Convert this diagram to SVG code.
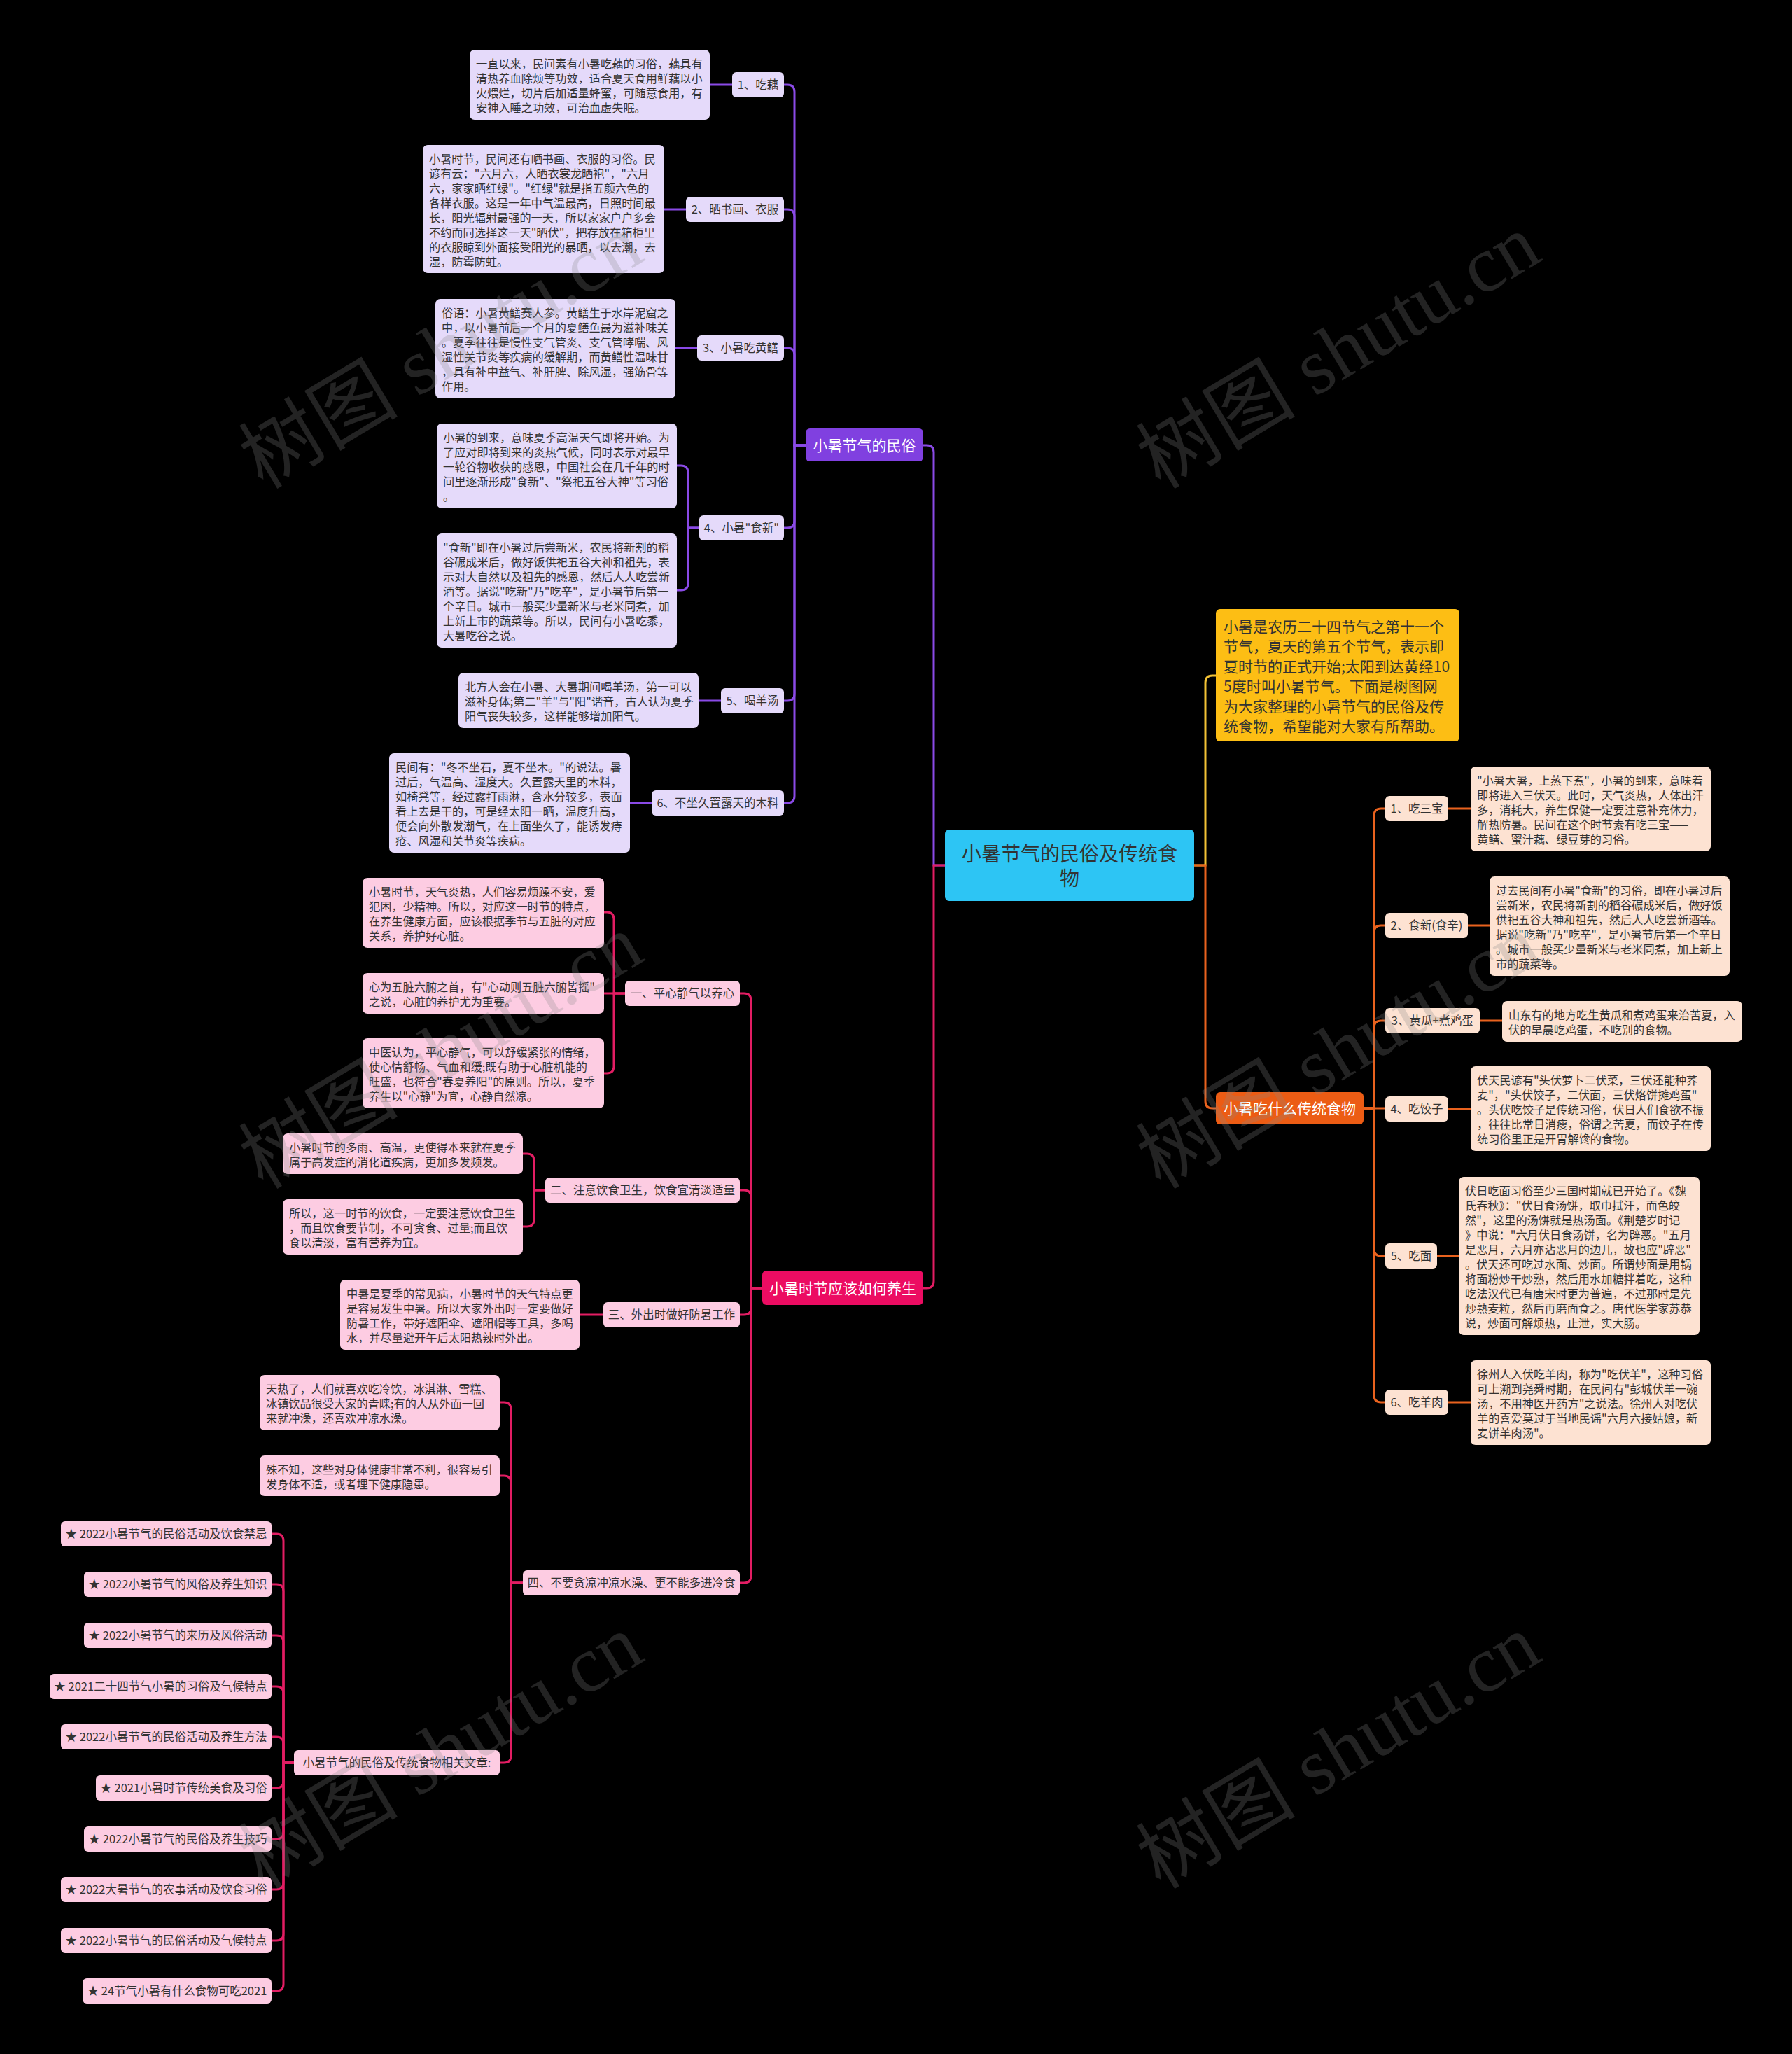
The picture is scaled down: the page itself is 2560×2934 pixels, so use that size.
<svg xmlns="http://www.w3.org/2000/svg" width="2560" height="2934" viewBox="0 0 2560 2934">
<style>
.t{font-family:'Noto Sans CJK SC','Noto Sans',sans-serif;font-size:16.2px;fill:#333}
.lb{font-family:'Noto Sans CJK SC','Noto Sans',sans-serif;font-size:16.5px;fill:#333;text-anchor:middle}
.mn{font-family:'Noto Sans CJK SC','Noto Sans',sans-serif;font-size:21px;fill:#fff;text-anchor:middle}
.pb{fill:#E5DAFA}
.kb{fill:#FDCCE2}
.ob{fill:#FDE2D2}
.lp{stroke:#8A4AE6;stroke-width:3;fill:none}
.lk{stroke:#E21D63;stroke-width:3;fill:none}
.lo{stroke:#E9621E;stroke-width:3;fill:none}
.ly{stroke:#F2C235;stroke-width:3;fill:none}
.wm{font-family:'Liberation Serif','Noto Sans CJK SC',serif;font-size:114px;fill:#888;fill-opacity:0.26;text-anchor:middle}
</style>
<rect x="0" y="0" width="2560" height="2934" fill="#000"/>

<g id="connectors">
<path class="lp" d="M1350,1236 H1334 V646 Q1334,636 1324,636 H1319"/>
<path class="lk" d="M1350,1236 H1334 V1830 Q1334,1840 1324,1840 H1319"/>
<path class="ly" d="M1706,1236 H1722 V975 Q1722,965 1732,965 H1737"/>
<path class="lo" d="M1706,1236 H1722 V1573 Q1722,1583 1732,1583 H1737"/>

<path class="lp" d="M1151,636 H1135 V131 Q1135,121 1125,121 H1120"/>
<path class="lp" d="M1151,636 H1135 V309 Q1135,299 1125,299 H1120"/>
<path class="lp" d="M1151,636 H1135 V507 Q1135,497 1125,497 H1120"/>
<path class="lp" d="M1151,636 H1135 V744 Q1135,754 1125,754 H1120"/>
<path class="lp" d="M1151,636 H1135 V991 Q1135,1001 1125,1001 H1120"/>
<path class="lp" d="M1151,636 H1135 V1137 Q1135,1147 1125,1147 H1120"/>
<path class="lp" d="M1046,121 H1014"/>
<path class="lp" d="M980,299 H949"/>
<path class="lp" d="M996,497 H965"/>
<path class="lp" d="M999,754 H983 V675 Q983,665 973,665 H967"/>
<path class="lp" d="M999,754 H983 V833 Q983,843 973,843 H967"/>
<path class="lp" d="M1030,1001 H998"/>
<path class="lp" d="M931,1147 H900"/>

<path class="lo" d="M1948,1583 H1963 V1165 Q1963,1155 1973,1155 H1979"/>
<path class="lo" d="M1948,1583 H1963 V1332 Q1963,1322 1973,1322 H1979"/>
<path class="lo" d="M1948,1583 H1963 V1468 Q1963,1458 1973,1458 H1979"/>
<path class="lo" d="M1948,1583 H1979"/>
<path class="lo" d="M1948,1583 H1963 V1784 Q1963,1794 1973,1794 H1979"/>
<path class="lo" d="M1948,1583 H1963 V1993 Q1963,2003 1973,2003 H1979"/>
<path class="lo" d="M2069,1155 H2101"/>
<path class="lo" d="M2097,1322 H2128"/>
<path class="lo" d="M2114,1458 H2146"/>
<path class="lo" d="M2069,1584 H2101"/>
<path class="lo" d="M2053,1794 H2084"/>
<path class="lo" d="M2069,2003 H2101"/>

<path class="lk" d="M1089,1840 H1073 V1429 Q1073,1419 1063,1419 H1057"/>
<path class="lk" d="M1089,1840 H1073 V1710 Q1073,1700 1063,1700 H1057"/>
<path class="lk" d="M1089,1840 H1073 V1868 Q1073,1878 1063,1878 H1057"/>
<path class="lk" d="M1089,1840 H1073 V2251 Q1073,2261 1063,2261 H1057"/>
<path class="lk" d="M893,1419 H877 V1313 Q877,1303 867,1303 H863"/>
<path class="lk" d="M893,1419 H863"/>
<path class="lk" d="M893,1419 H877 V1523 Q877,1533 867,1533 H863"/>
<path class="lk" d="M779,1700 H763 V1658 Q763,1648 753,1648 H747"/>
<path class="lk" d="M779,1700 H763 V1742 Q763,1752 753,1752 H747"/>
<path class="lk" d="M862,1878 H828"/>
<path class="lk" d="M747,2261 H730 V2013 Q730,2003 720,2003 H714"/>
<path class="lk" d="M747,2261 H730 V2118 Q730,2108 720,2108 H714"/>
<path class="lk" d="M747,2261 H730 V2508 Q730,2518 720,2518 H714"/>
<path class="lk" d="M420,2518 H405 V2201 Q405,2191 395,2191 H388"/>
<path class="lk" d="M420,2518 H405 V2273 Q405,2263 395,2263 H388"/>
<path class="lk" d="M420,2518 H405 V2346 Q405,2336 395,2336 H388"/>
<path class="lk" d="M420,2518 H405 V2419 Q405,2409 395,2409 H388"/>
<path class="lk" d="M420,2518 H405 V2491 Q405,2481 395,2481 H388"/>
<path class="lk" d="M420,2518 H405 V2544 Q405,2554 395,2554 H388"/>
<path class="lk" d="M420,2518 H405 V2617 Q405,2627 395,2627 H388"/>
<path class="lk" d="M420,2518 H405 V2689 Q405,2699 395,2699 H388"/>
<path class="lk" d="M420,2518 H405 V2762 Q405,2772 395,2772 H388"/>
<path class="lk" d="M420,2518 H405 V2834 Q405,2844 395,2844 H388"/>
</g>

<g id="center">
<rect x="1350" y="1185" width="356" height="102" rx="6" fill="#2DC5F4"/>
<text x="1528" y="1230" font-family="'Noto Sans CJK SC','Noto Sans',sans-serif" font-size="28" fill="#333" text-anchor="middle">小暑节气的民俗及传统食</text>
<text x="1528" y="1265" font-family="'Noto Sans CJK SC','Noto Sans',sans-serif" font-size="28" fill="#333" text-anchor="middle">物</text>
</g>

<g id="intro">
<rect x="1737" y="870" width="348" height="189" rx="6" fill="#FDBE14"/>
<text font-family="'Noto Sans CJK SC','Noto Sans',sans-serif" font-size="21" fill="#333">
<tspan x="1748" y="903">小暑是农历二十四节气之第十一个</tspan>
<tspan x="1748" y="931">节气，夏天的第五个节气，表示即</tspan>
<tspan x="1748" y="960">夏时节的正式开始;太阳到达黄经10</tspan>
<tspan x="1748" y="988">5度时叫小暑节气。下面是树图网</tspan>
<tspan x="1748" y="1017">为大家整理的小暑节气的民俗及传</tspan>
<tspan x="1748" y="1045">统食物，希望能对大家有所帮助。</tspan>
</text>
</g>

<g id="b-customs">
<rect x="1151" y="612" width="168" height="47" rx="6" fill="#8040E0"/>
<text class="mn" x="1235" y="644">小暑节气的民俗</text>
</g>
<g id="c1"><rect x="1046" y="103" width="74" height="36" rx="6" class="pb"/><text class="lb" x="1083" y="127">1、吃藕</text></g>
<g id="c1t"><rect x="671" y="71" width="343" height="100" rx="7" class="pb"/>
<text class="t"><tspan x="680" y="97">一直以来，民间素有小暑吃藕的习俗，藕具有</tspan><tspan x="680" y="118">清热养血除烦等功效，适合夏天食用鲜藕以小</tspan><tspan x="680" y="139">火煨烂，切片后加适量蜂蜜，可随意食用，有</tspan><tspan x="680" y="160">安神入睡之功效，可治血虚失眠。</tspan></text></g>
<g id="c2"><rect x="980" y="281" width="140" height="36" rx="6" class="pb"/><text class="lb" x="1050" y="305">2、晒书画、衣服</text></g>
<g id="c2t"><rect x="604" y="207" width="345" height="183" rx="7" class="pb"/>
<text class="t"><tspan x="613" y="233">小暑时节，民间还有晒书画、衣服的习俗。民</tspan><tspan x="613" y="254">谚有云："六月六，人晒衣裳龙晒袍"，"六月</tspan><tspan x="613" y="275">六，家家晒红绿"。"红绿"就是指五颜六色的</tspan><tspan x="613" y="296">各样衣服。这是一年中气温最高，日照时间最</tspan><tspan x="613" y="317">长，阳光辐射最强的一天，所以家家户户多会</tspan><tspan x="613" y="338">不约而同选择这一天"晒伏"，把存放在箱柜里</tspan><tspan x="613" y="359">的衣服晾到外面接受阳光的暴晒，以去潮，去</tspan><tspan x="613" y="380">湿，防霉防蛀。</tspan></text></g>
<g id="c3"><rect x="996" y="479" width="124" height="36" rx="6" class="pb"/><text class="lb" x="1058" y="503">3、小暑吃黄鳝</text></g>
<g id="c3t"><rect x="622" y="427" width="343" height="142" rx="7" class="pb"/>
<text class="t"><tspan x="631" y="453">俗语：小暑黄鳝赛人参。黄鳝生于水岸泥窟之</tspan><tspan x="631" y="474">中，以小暑前后一个月的夏鳝鱼最为滋补味美</tspan><tspan x="631" y="495">。夏季往往是慢性支气管炎、支气管哮喘、风</tspan><tspan x="631" y="516">湿性关节炎等疾病的缓解期，而黄鳝性温味甘</tspan><tspan x="631" y="537">，具有补中益气、补肝脾、除风湿，强筋骨等</tspan><tspan x="631" y="558">作用。</tspan></text></g>
<g id="c4"><rect x="999" y="736" width="121" height="36" rx="6" class="pb"/><text class="lb" x="1059.5" y="760">4、小暑"食新"</text></g>
<g id="c4a"><rect x="624" y="605" width="343" height="121" rx="7" class="pb"/>
<text class="t"><tspan x="633" y="631">小暑的到来，意味夏季高温天气即将开始。为</tspan><tspan x="633" y="652">了应对即将到来的炎热气候，同时表示对最早</tspan><tspan x="633" y="673">一轮谷物收获的感恩，中国社会在几千年的时</tspan><tspan x="633" y="694">间里逐渐形成"食新"、"祭祀五谷大神"等习俗</tspan><tspan x="633" y="715">。</tspan></text></g>
<g id="c4b"><rect x="624" y="762" width="343" height="163" rx="7" class="pb"/>
<text class="t"><tspan x="633" y="788">"食新"即在小暑过后尝新米，农民将新割的稻</tspan><tspan x="633" y="809">谷碾成米后，做好饭供祀五谷大神和祖先，表</tspan><tspan x="633" y="830">示对大自然以及祖先的感恩，然后人人吃尝新</tspan><tspan x="633" y="851">酒等。据说"吃新"乃"吃辛"，是小暑节后第一</tspan><tspan x="633" y="872">个辛日。城市一般买少量新米与老米同煮，加</tspan><tspan x="633" y="893">上新上市的蔬菜等。所以，民间有小暑吃黍，</tspan><tspan x="633" y="914">大暑吃谷之说。</tspan></text></g>
<g id="c5"><rect x="1030" y="983" width="90" height="36" rx="6" class="pb"/><text class="lb" x="1075" y="1007">5、喝羊汤</text></g>
<g id="c5t"><rect x="655" y="961" width="343" height="79" rx="7" class="pb"/>
<text class="t"><tspan x="664" y="987">北方人会在小暑、大暑期间喝羊汤，第一可以</tspan><tspan x="664" y="1008">滋补身体;第二"羊"与"阳"谐音，古人认为夏季</tspan><tspan x="664" y="1029">阳气丧失较多，这样能够增加阳气。</tspan></text></g>
<g id="c6"><rect x="931" y="1129" width="189" height="36" rx="6" class="pb"/><text class="lb" x="1025.5" y="1153">6、不坐久置露天的木料</text></g>
<g id="c6t"><rect x="556" y="1076" width="344" height="142" rx="7" class="pb"/>
<text class="t"><tspan x="565" y="1102">民间有："冬不坐石，夏不坐木。"的说法。暑</tspan><tspan x="565" y="1123">过后，气温高、湿度大。久置露天里的木料，</tspan><tspan x="565" y="1144">如椅凳等，经过露打雨淋，含水分较多，表面</tspan><tspan x="565" y="1165">看上去是干的，可是经太阳一晒，温度升高，</tspan><tspan x="565" y="1186">便会向外散发潮气，在上面坐久了，能诱发痔</tspan><tspan x="565" y="1207">疮、风湿和关节炎等疾病。</tspan></text></g>

<g id="b-food">
<rect x="1737" y="1560" width="211" height="46" rx="6" fill="#EC5C14"/>
<text class="mn" x="1842.5" y="1591">小暑吃什么传统食物</text>
</g>
<g id="f1"><rect x="1979" y="1137" width="90" height="36" rx="6" class="ob"/><text class="lb" x="2024" y="1161">1、吃三宝</text></g>
<g id="f1t"><rect x="2101" y="1095" width="343" height="121" rx="7" class="ob"/>
<text class="t"><tspan x="2110" y="1121">"小暑大暑，上蒸下煮"，小暑的到来，意味着</tspan><tspan x="2110" y="1142">即将进入三伏天。此时，天气炎热，人体出汗</tspan><tspan x="2110" y="1163">多，消耗大，养生保健一定要注意补充体力，</tspan><tspan x="2110" y="1184">解热防暑。民间在这个时节素有吃三宝——</tspan><tspan x="2110" y="1205">黄鳝、蜜汁藕、绿豆芽的习俗。</tspan></text></g>
<g id="f2"><rect x="1979" y="1304" width="118" height="36" rx="6" class="ob"/><text class="lb" x="2038" y="1328">2、食新(食辛)</text></g>
<g id="f2t"><rect x="2128" y="1252" width="343" height="142" rx="7" class="ob"/>
<text class="t"><tspan x="2137" y="1278">过去民间有小暑"食新"的习俗，即在小暑过后</tspan><tspan x="2137" y="1299">尝新米，农民将新割的稻谷碾成米后，做好饭</tspan><tspan x="2137" y="1320">供祀五谷大神和祖先，然后人人吃尝新酒等。</tspan><tspan x="2137" y="1341">据说"吃新"乃"吃辛"，是小暑节后第一个辛日</tspan><tspan x="2137" y="1362">。城市一般买少量新米与老米同煮，加上新上</tspan><tspan x="2137" y="1383">市的蔬菜等。</tspan></text></g>
<g id="f3"><rect x="1979" y="1440" width="135" height="36" rx="6" class="ob"/><text class="lb" x="2046.5" y="1464">3、黄瓜+煮鸡蛋</text></g>
<g id="f3t"><rect x="2146" y="1430" width="343" height="58" rx="7" class="ob"/>
<text class="t"><tspan x="2155" y="1456">山东有的地方吃生黄瓜和煮鸡蛋来治苦夏，入</tspan><tspan x="2155" y="1477">伏的早晨吃鸡蛋，不吃别的食物。</tspan></text></g>
<g id="f4"><rect x="1979" y="1566" width="90" height="36" rx="6" class="ob"/><text class="lb" x="2024" y="1590">4、吃饺子</text></g>
<g id="f4t"><rect x="2101" y="1523" width="343" height="121" rx="7" class="ob"/>
<text class="t"><tspan x="2110" y="1549">伏天民谚有"头伏萝卜二伏菜，三伏还能种荞</tspan><tspan x="2110" y="1570">麦"，"头伏饺子，二伏面，三伏烙饼摊鸡蛋"</tspan><tspan x="2110" y="1591">。头伏吃饺子是传统习俗，伏日人们食欲不振</tspan><tspan x="2110" y="1612">，往往比常日消瘦，俗谓之苦夏，而饺子在传</tspan><tspan x="2110" y="1633">统习俗里正是开胃解馋的食物。</tspan></text></g>
<g id="f5"><rect x="1979" y="1776" width="74" height="36" rx="6" class="ob"/><text class="lb" x="2016" y="1800">5、吃面</text></g>
<g id="f5t"><rect x="2084" y="1681" width="344" height="226" rx="7" class="ob"/>
<text class="t"><tspan x="2093" y="1707">伏日吃面习俗至少三国时期就已开始了。《魏</tspan><tspan x="2093" y="1728">氏春秋》："伏日食汤饼，取巾拭汗，面色皎</tspan><tspan x="2093" y="1749">然"，这里的汤饼就是热汤面。《荆楚岁时记</tspan><tspan x="2093" y="1770">》中说："六月伏日食汤饼，名为辟恶。"五月</tspan><tspan x="2093" y="1791">是恶月，六月亦沾恶月的边儿，故也应"辟恶"</tspan><tspan x="2093" y="1812">。伏天还可吃过水面、炒面。所谓炒面是用锅</tspan><tspan x="2093" y="1833">将面粉炒干炒熟，然后用水加糖拌着吃，这种</tspan><tspan x="2093" y="1854">吃法汉代已有唐宋时更为普遍，不过那时是先</tspan><tspan x="2093" y="1875">炒熟麦粒，然后再磨面食之。唐代医学家苏恭</tspan><tspan x="2093" y="1896">说，炒面可解烦热，止泄，实大肠。</tspan></text></g>
<g id="f6"><rect x="1979" y="1985" width="90" height="36" rx="6" class="ob"/><text class="lb" x="2024" y="2009">6、吃羊肉</text></g>
<g id="f6t"><rect x="2101" y="1943" width="343" height="121" rx="7" class="ob"/>
<text class="t"><tspan x="2110" y="1969">徐州人入伏吃羊肉，称为"吃伏羊"，这种习俗</tspan><tspan x="2110" y="1990">可上溯到尧舜时期，在民间有"彭城伏羊一碗</tspan><tspan x="2110" y="2011">汤，不用神医开药方"之说法。徐州人对吃伏</tspan><tspan x="2110" y="2032">羊的喜爱莫过于当地民谣"六月六接姑娘，新</tspan><tspan x="2110" y="2053">麦饼羊肉汤"。</tspan></text></g>

<g id="b-health">
<rect x="1089" y="1815" width="230" height="49" rx="6" fill="#EC0C62"/>
<text class="mn" x="1204" y="1848">小暑时节应该如何养生</text>
</g>
<g id="h1"><rect x="893" y="1401" width="164" height="36" rx="6" class="kb"/><text class="lb" x="975" y="1425">一、平心静气以养心</text></g>
<g id="h1a"><rect x="518" y="1254" width="345" height="100" rx="7" class="kb"/>
<text class="t"><tspan x="527" y="1280">小暑时节，天气炎热，人们容易烦躁不安，爱</tspan><tspan x="527" y="1301">犯困，少精神。所以，对应这一时节的特点，</tspan><tspan x="527" y="1322">在养生健康方面，应该根据季节与五脏的对应</tspan><tspan x="527" y="1343">关系，养护好心脏。</tspan></text></g>
<g id="h1b"><rect x="518" y="1390" width="345" height="58" rx="7" class="kb"/>
<text class="t"><tspan x="527" y="1416">心为五脏六腑之首，有"心动则五脏六腑皆摇"</tspan><tspan x="527" y="1437">之说，心脏的养护尤为重要。</tspan></text></g>
<g id="h1c"><rect x="518" y="1483" width="345" height="100" rx="7" class="kb"/>
<text class="t"><tspan x="527" y="1509">中医认为，平心静气，可以舒缓紧张的情绪，</tspan><tspan x="527" y="1530">使心情舒畅、气血和缓;既有助于心脏机能的</tspan><tspan x="527" y="1551">旺盛，也符合"春夏养阳"的原则。所以，夏季</tspan><tspan x="527" y="1572">养生以"心静"为宜，心静自然凉。</tspan></text></g>
<g id="h2"><rect x="779" y="1682" width="278" height="36" rx="6" class="kb"/><text class="lb" x="918" y="1706">二、注意饮食卫生，饮食宜清淡适量</text></g>
<g id="h2a"><rect x="404" y="1619" width="343" height="58" rx="7" class="kb"/>
<text class="t"><tspan x="413" y="1645">小暑时节的多雨、高温，更使得本来就在夏季</tspan><tspan x="413" y="1666">属于高发症的消化道疾病，更加多发频发。</tspan></text></g>
<g id="h2b"><rect x="404" y="1713" width="343" height="79" rx="7" class="kb"/>
<text class="t"><tspan x="413" y="1739">所以，这一时节的饮食，一定要注意饮食卫生</tspan><tspan x="413" y="1760">，而且饮食要节制，不可贪食、过量;而且饮</tspan><tspan x="413" y="1781">食以清淡，富有营养为宜。</tspan></text></g>
<g id="h3"><rect x="862" y="1860" width="195" height="36" rx="6" class="kb"/><text class="lb" x="959.5" y="1884">三、外出时做好防暑工作</text></g>
<g id="h3a"><rect x="486" y="1828" width="342" height="100" rx="7" class="kb"/>
<text class="t"><tspan x="495" y="1854">中暑是夏季的常见病，小暑时节的天气特点更</tspan><tspan x="495" y="1875">是容易发生中暑。所以大家外出时一定要做好</tspan><tspan x="495" y="1896">防暑工作，带好遮阳伞、遮阳帽等工具，多喝</tspan><tspan x="495" y="1917">水，并尽量避开午后太阳热辣时外出。</tspan></text></g>
<g id="h4"><rect x="747" y="2243" width="310" height="36" rx="6" class="kb"/><text class="lb" x="902" y="2267">四、不要贪凉冲凉水澡、更不能多进冷食</text></g>
<g id="h4a"><rect x="371" y="1964" width="343" height="79" rx="7" class="kb"/>
<text class="t"><tspan x="380" y="1990">天热了，人们就喜欢吃冷饮，冰淇淋、雪糕、</tspan><tspan x="380" y="2011">冰镇饮品很受大家的青睐;有的人从外面一回</tspan><tspan x="380" y="2032">来就冲澡，还喜欢冲凉水澡。</tspan></text></g>
<g id="h4b"><rect x="371" y="2079" width="343" height="58" rx="7" class="kb"/>
<text class="t"><tspan x="380" y="2105">殊不知，这些对身体健康非常不利，很容易引</tspan><tspan x="380" y="2126">发身体不适，或者埋下健康隐患。</tspan></text></g>
<g id="rel"><rect x="420" y="2500" width="294" height="36" rx="6" class="kb"/><text class="lb" x="567" y="2524">小暑节气的民俗及传统食物相关文章:</text></g>
<g id="r1"><rect x="87" y="2173" width="301" height="36" rx="6" class="kb"/><text class="lb" x="237.5" y="2197">★ 2022小暑节气的民俗活动及饮食禁忌</text></g>
<g id="r2"><rect x="120" y="2245" width="268" height="36" rx="6" class="kb"/><text class="lb" x="254" y="2269">★ 2022小暑节气的风俗及养生知识</text></g>
<g id="r3"><rect x="120" y="2318" width="268" height="36" rx="6" class="kb"/><text class="lb" x="254" y="2342">★ 2022小暑节气的来历及风俗活动</text></g>
<g id="r4"><rect x="71" y="2391" width="317" height="36" rx="6" class="kb"/><text class="lb" x="229.5" y="2415">★ 2021二十四节气小暑的习俗及气候特点</text></g>
<g id="r5"><rect x="87" y="2463" width="301" height="36" rx="6" class="kb"/><text class="lb" x="237.5" y="2487">★ 2022小暑节气的民俗活动及养生方法</text></g>
<g id="r6"><rect x="137" y="2536" width="251" height="36" rx="6" class="kb"/><text class="lb" x="262.5" y="2560">★ 2021小暑时节传统美食及习俗</text></g>
<g id="r7"><rect x="120" y="2609" width="268" height="36" rx="6" class="kb"/><text class="lb" x="254" y="2633">★ 2022小暑节气的民俗及养生技巧</text></g>
<g id="r8"><rect x="87" y="2681" width="301" height="36" rx="6" class="kb"/><text class="lb" x="237.5" y="2705">★ 2022大暑节气的农事活动及饮食习俗</text></g>
<g id="r9"><rect x="87" y="2754" width="301" height="36" rx="6" class="kb"/><text class="lb" x="237.5" y="2778">★ 2022小暑节气的民俗活动及气候特点</text></g>
<g id="r10"><rect x="118" y="2826" width="270" height="36" rx="6" class="kb"/><text class="lb" x="253" y="2850">★ 24节气小暑有什么食物可吃2021</text></g>

<g id="watermarks">
<text class="wm" transform="translate(650,535) rotate(-31)">树图 shutu.cn</text>
<text class="wm" transform="translate(1932,535) rotate(-31)">树图 shutu.cn</text>
<text class="wm" transform="translate(650,1535) rotate(-31)">树图 shutu.cn</text>
<text class="wm" transform="translate(1932,1535) rotate(-31)">树图 shutu.cn</text>
<text class="wm" transform="translate(650,2535) rotate(-31)">树图 shutu.cn</text>
<text class="wm" transform="translate(1932,2535) rotate(-31)">树图 shutu.cn</text>
</g>
</svg>
